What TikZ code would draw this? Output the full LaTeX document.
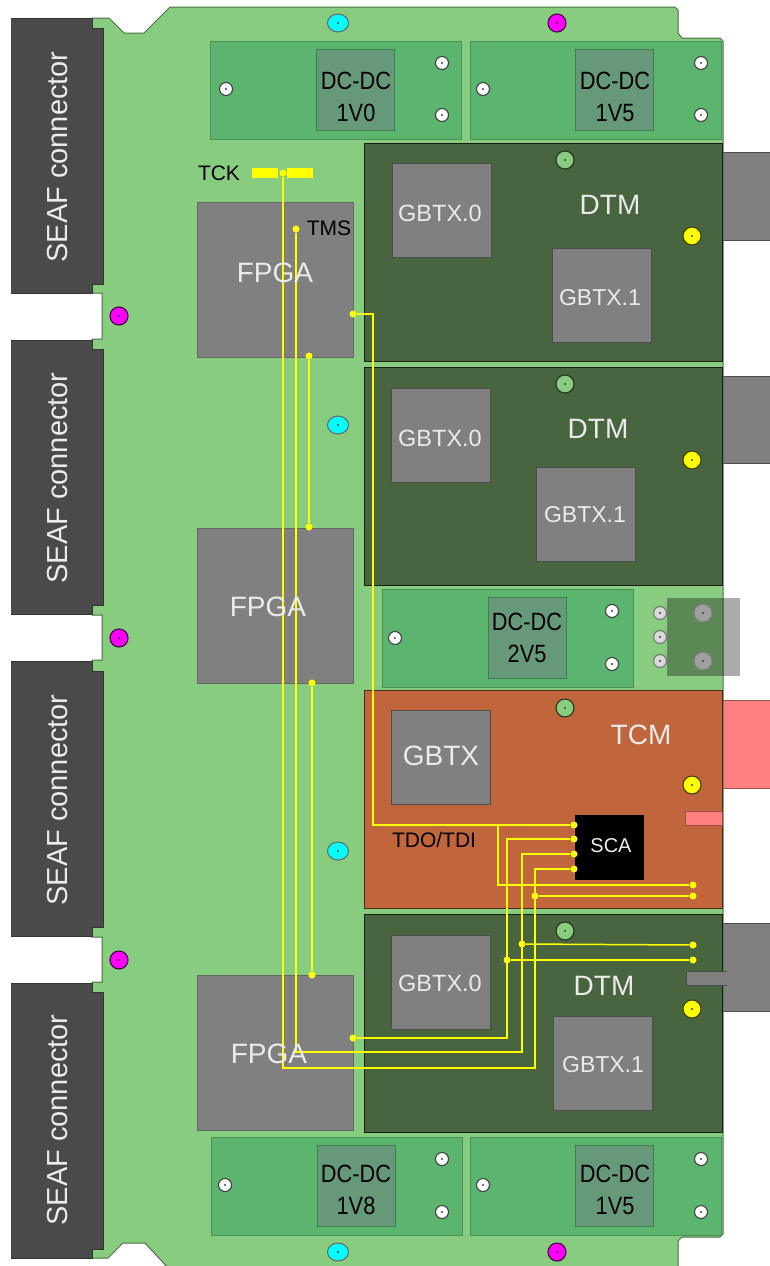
\documentclass[tikz,border=0pt]{standalone}
\usepackage{fontspec}
\setmainfont{Liberation Sans}
\newfontfamily\narrowsans[FakeStretch=0.87]{Liberation Sans}
\usetikzlibrary{shapes.geometric}
\definecolor{boardgreen}{HTML}{88CC80}
\definecolor{dcgreen}{HTML}{5BB56E}
\definecolor{dcchipgreen}{HTML}{66997A}
\definecolor{dtmgreen}{HTML}{48653F}
\definecolor{tcmorange}{HTML}{C1653D}
\definecolor{chipgray}{HTML}{808080}
\definecolor{seafgray}{HTML}{4A4A4A}
\definecolor{tcmpink}{HTML}{FF8080}
\definecolor{wireyellow}{HTML}{FFFF00}
\definecolor{edgedark}{HTML}{3A4A38}
\definecolor{screwgray}{HTML}{A0A0A0}
\definecolor{ovalcyan}{HTML}{00FFFF}
\definecolor{screwmagenta}{HTML}{FF00FF}

\begin{document}
\begin{tikzpicture}[
    x=1pt,y=-1pt,
    block/.style={rectangle,draw=edgedark,line width=1pt,inner sep=0pt,outer sep=0pt},
    dcboard/.style={block,fill=dcgreen,draw=dcgreen!80!black,minimum width=251pt,minimum height=98pt},
    dcchip/.style={block,fill=dcchipgreen,draw=dcgreen!70!black,minimum width=78pt,minimum height=81pt},
    dtmboard/.style={block,fill=dtmgreen,draw=black!70!dtmgreen,minimum width=358pt,minimum height=218pt},
    tcmboard/.style={block,fill=tcmorange,draw=black!60!tcmorange,minimum width=358pt,minimum height=218pt},
    gbtxchip/.style={block,fill=chipgray,draw=black!70,minimum width=99pt,minimum height=94pt},
    fpgachip/.style={block,fill=chipgray,draw=black!60,minimum width=156pt,minimum height=155pt},
    seaflabel/.style={text=white!92!black,rotate=90,font=\fontsize{29}{31}\selectfont},
    dclabel/.style={text=black,align=center,font=\narrowsans\fontsize{25}{32}\selectfont},
    chiplabel/.style={text=white!92!black,font=\fontsize{#1}{#1}\selectfont},
    inklabel/.style={text=black,font=\fontsize{#1}{#1}\selectfont},
    screw/.style={circle,draw=#1!25!black,line width=1.1pt,inner sep=0pt,fill=#1,minimum size=18pt,
        path picture={\fill[black!75] (path picture bounding box.center) circle (1.2pt);}},
    smallscrew/.style={circle,draw=black!75,line width=1.1pt,inner sep=0pt,fill=#1,minimum size=13pt,
        path picture={\fill[black!75] (path picture bounding box.center) circle (1.2pt);}},
    oval/.style={ellipse,draw=black!60,line width=1pt,inner sep=0pt,fill=ovalcyan,minimum width=21pt,minimum height=18pt,
        path picture={\fill[black!75] (path picture bounding box.center) circle (1.2pt);}},
    wire/.style={draw=wireyellow,line width=1.5pt},
    wiredot/.style={circle,fill=wireyellow,inner sep=0pt,minimum size=7pt}
]
\useasboundingbox (0,0) rectangle (769,1266);
\fill[white] (0,0) rectangle (769,1266);

% right hand connectors, under the boards
\filldraw[fill=chipgray,draw=black!70,line width=1pt] (700,152) rectangle (775,240);
\filldraw[fill=chipgray,draw=black!70,line width=1pt] (700,376) rectangle (775,463);
\filldraw[fill=tcmpink,draw=tcmpink!60!black,line width=1pt] (700,700) rectangle (775,788);
\filldraw[fill=chipgray,draw=black!70,line width=1pt] (700,923) rectangle (775,1011);

% board outline
\filldraw[fill=boardgreen,draw=black!45!boardgreen,line width=1pt]
    (92,18) -- (109,18) -- (124,33) -- (144,33) -- (170,7) -- (675,7) -- (678,10) -- (678,33) -- (682,38)
    -- (720,38) -- (723,41) -- (723,1234) -- (720,1237) -- (682,1237) -- (678,1241) -- (678,1270)
    -- (170,1270) -- (145,1243) -- (123,1243) -- (108,1258) -- (92,1258)
    -- (92,982) -- (102,982) -- (102,937) -- (92,937) -- (92,660) -- (102,660) -- (102,615) -- (92,615)
    -- (92,339) -- (102,339) -- (102,293) -- (92,293) -- cycle;

% SEAF connectors
\filldraw[fill=seafgray,draw=black!80,line width=1pt] (11,18) -- (92,18) -- (92,28) -- (103,28) -- (103,284) -- (92,284) -- (92,293) -- (11,293);
\filldraw[fill=seafgray,draw=black!80,line width=1pt] (11,340) -- (92,340) -- (92,349) -- (103,349) -- (103,605) -- (92,605) -- (92,614) -- (11,614);
\filldraw[fill=seafgray,draw=black!80,line width=1pt] (11,661) -- (92,661) -- (92,671) -- (103,671) -- (103,927) -- (92,927) -- (92,936) -- (11,936);
\filldraw[fill=seafgray,draw=black!80,line width=1pt] (11,983) -- (92,983) -- (92,992) -- (103,992) -- (103,1249) -- (92,1249) -- (92,1258) -- (11,1258);

% DC-DC modules
\node[dcboard] (dctl) at (336,90) {};
\node[dcboard] (dctr) at (596,90) {};
\node[dcboard] (dcmid) at (507.5,638) {};
\node[dcboard] (dcbl) at (336.5,1186.5) {};
\node[dcboard] (dcbr) at (596,1186.5) {};
\node[dcchip] (chip1v0) at (355,89.5) {};
\node[dcchip] (chip1v5t) at (614.5,89.5) {};
\node[dcchip] (chip2v5) at (527,638) {};
\node[dcchip] (chip1v8) at (356,1186) {};
\node[dcchip] (chip1v5b) at (614.5,1186) {};

% DTM and TCM boards
\node[dtmboard] (dtma) at (543,252) {};
\node[dtmboard] (dtmb) at (543,476) {};
\node[tcmboard] (tcm) at (543,799.5) {};
\node[dtmboard] (dtmc) at (543,1023) {};

% slots in the boards
\node[block,fill=tcmpink,draw=tcmpink!60!black,minimum width=37pt,minimum height=14pt] (tcmslot) at (704,818) {};
\filldraw[fill=chipgray,draw=black!70,line width=1pt] (727,971) -- (686,971) -- (686,985) -- (727,985);

% chips
\node[gbtxchip] (gbtxa0) at (441.5,210) {};
\node[gbtxchip] (gbtxa1) at (601.5,295) {};
\node[gbtxchip] (gbtxb0) at (441,435) {};
\node[gbtxchip] (gbtxb1) at (585.5,514) {};
\node[gbtxchip] (gbtxt) at (440.5,757.5) {};
\node[gbtxchip] (gbtxc0) at (441,982) {};
\node[gbtxchip] (gbtxc1) at (602.5,1063.5) {};
\node[fpgachip] (fpgaa) at (275,279.5) {};
\node[fpgachip] (fpgab) at (275,606) {};
\node[fpgachip] (fpgac) at (275,1052.5) {};
\node[block,fill=black,draw=black,minimum width=68pt,minimum height=64pt] (sca) at (609,847) {};

% mounting screws
\node[oval] (ovala) at (338,23) {};
\node[oval] (ovalb) at (338,425) {};
\node[oval] (ovalc) at (338,851) {};
\node[oval] (ovald) at (338,1252) {};
\node[screw=screwmagenta] (maga) at (557,23) {};
\node[screw=screwmagenta] (magb) at (119,316) {};
\node[screw=screwmagenta] (magc) at (119,638) {};
\node[screw=screwmagenta] (magd) at (119,960) {};
\node[screw=screwmagenta] (mage) at (557,1252) {};
\node[screw=boardgreen] (grna) at (565,160) {};
\node[screw=boardgreen] (grnb) at (565,384) {};
\node[screw=boardgreen] (grnc) at (565,708) {};
\node[screw=boardgreen] (grnd) at (565,931) {};
\node[screw=wireyellow] (yela) at (692,236) {};
\node[screw=wireyellow] (yelb) at (692,460) {};
\node[screw=wireyellow] (yelc) at (692,785) {};
\node[screw=wireyellow] (yeld) at (692,1009) {};
\node[smallscrew=white] (sa) at (226,89) {};
\node[smallscrew=white] (sb) at (442,63) {};
\node[smallscrew=white] (sc) at (442,115) {};
\node[smallscrew=white] (sd) at (483,89) {};
\node[smallscrew=white] (se) at (701,63) {};
\node[smallscrew=white] (sf) at (701,115) {};
\node[smallscrew=white] (sg) at (395,638) {};
\node[smallscrew=white] (sh) at (612,611) {};
\node[smallscrew=white] (si) at (612,664) {};
\node[smallscrew=white] (sj) at (225,1185) {};
\node[smallscrew=white] (sk) at (442,1159) {};
\node[smallscrew=white] (sl) at (442,1212) {};
\node[smallscrew=white] (sm) at (483,1185) {};
\node[smallscrew=white] (sn) at (701,1159) {};
\node[smallscrew=white] (so) at (701,1212) {};
\node[smallscrew=white!85!black,draw=black!55] (spa) at (660,613) {};
\node[smallscrew=white!85!black,draw=black!55] (spb) at (660,637) {};
\node[smallscrew=white!85!black,draw=black!55] (spc) at (660,661) {};

% power connector, see through
\node[rectangle,draw=none,fill=black,opacity=0.33,inner sep=0pt,minimum width=73pt,minimum height=78pt] (pwr) at (703.5,637) {};
\node[screw=screwgray,draw=black!50] (spd) at (703,613) {};
\node[screw=screwgray,draw=black!50] (spe) at (703,661) {};

% JTAG wiring
\node[block,fill=wireyellow,draw=none,minimum width=26pt,minimum height=10pt] (tckl) at (265,173) {};
\node[block,fill=wireyellow,draw=none,minimum width=26pt,minimum height=10pt] (tckr) at (300,173) {};
\node[wiredot] (tck) at (283,173) {};
\node[wiredot] (tms) at (296,229) {};
\node[wiredot] (tdo) at (353,314) {};
\node[wiredot] (tdi) at (353,1038) {};
\node[wiredot] (scaa) at (574,825) {};
\node[wiredot] (scab) at (574,839) {};
\node[wiredot] (scac) at (574,854) {};
\node[wiredot] (scad) at (574,869) {};
\node[wiredot] (tcma) at (693,885) {};
\node[wiredot] (tcmb) at (693,896) {};
\node[wiredot] (tapb) at (535,896) {};
\node[wiredot] (dtma1) at (693,945) {};
\node[wiredot] (dtma2) at (693,960) {};
\node[wiredot] (tapc) at (522,944) {};
\node[wiredot] (tapd) at (507,960) {};
\node[wiredot] (linka) at (309,356) {};
\node[wiredot] (linkb) at (309,527) {};
\node[wiredot] (linkc) at (312,683) {};
\node[wiredot] (linkd) at (312,975) {};
\coordinate (tcorner) at (373,825);
\coordinate (tjoin) at (498,825);
\coordinate (icorner) at (507,1038);
\coordinate (mcorner) at (522,1052);
\coordinate (kcorner) at (535,1068);

\draw[wire] (tdo) -| (tcorner) -- (scaa);
\draw[wire] (tjoin) |- (tcma);
\draw[wire] (tdi) -- (icorner) |- (scab);
\draw[wire] (tms) |- (mcorner) |- (scac);
\draw[wire] (tck) |- (kcorner) |- (scad);
\draw[wire] (tapb) -- (tcmb);
\draw[wire] (tapc) -- (dtma1);
\draw[wire] (tapd) -- (dtma2);
\draw[wire] (linka) -- (linkb);
\draw[wire] (linkc) -- (linkd);

% labels
\node[seaflabel] (seafa) at (58,157) {SEAF connector};
\node[seaflabel] (seafb) at (58,478) {SEAF connector};
\node[seaflabel] (seafc) at (58,800) {SEAF connector};
\node[seaflabel] (seafd) at (58,1120) {SEAF connector};
\node[dclabel] (txt1v0) at (356,97) {DC-DC\\1V0};
\node[dclabel] (txt1v5t) at (615,97) {DC-DC\\1V5};
\node[dclabel] (txt2v5) at (527,638) {DC-DC\\2V5};
\node[dclabel] (txt1v8) at (356,1190) {DC-DC\\1V8};
\node[dclabel] (txt1v5b) at (615,1190) {DC-DC\\1V5};
\node[chiplabel=28] (txtdtma) at (610,205) {DTM};
\node[chiplabel=28] (txtdtmb) at (598,429) {DTM};
\node[chiplabel=28] (txttcm) at (641,735) {TCM};
\node[chiplabel=28] (txtdtmc) at (604,986) {DTM};
\node[chiplabel=23.5] (txta0) at (440,213) {GBTX.0};
\node[chiplabel=23] (txta1) at (600,298) {GBTX.1};
\node[chiplabel=23.5] (txtb0) at (440,438) {GBTX.0};
\node[chiplabel=23] (txtb1) at (585,515) {GBTX.1};
\node[chiplabel=28] (txtg) at (441,756) {GBTX};
\node[chiplabel=23.5] (txtc0) at (440,983) {GBTX.0};
\node[chiplabel=23] (txtc1) at (603,1065) {GBTX.1};
\node[chiplabel=28] (txtfa) at (275,273) {FPGA};
\node[chiplabel=28] (txtfb) at (268,607) {FPGA};
\node[chiplabel=28] (txtfc) at (269,1054) {FPGA};
\node[chiplabel=20] (txtsca) at (611,846) {SCA};
\node[inklabel=21] (txttck) at (219,173) {TCK};
\node[inklabel=21] (txttms) at (329,228) {TMS};
\node[inklabel=21] (txttdo) at (434,840) {TDO/TDI};

\end{tikzpicture}
\end{document}
